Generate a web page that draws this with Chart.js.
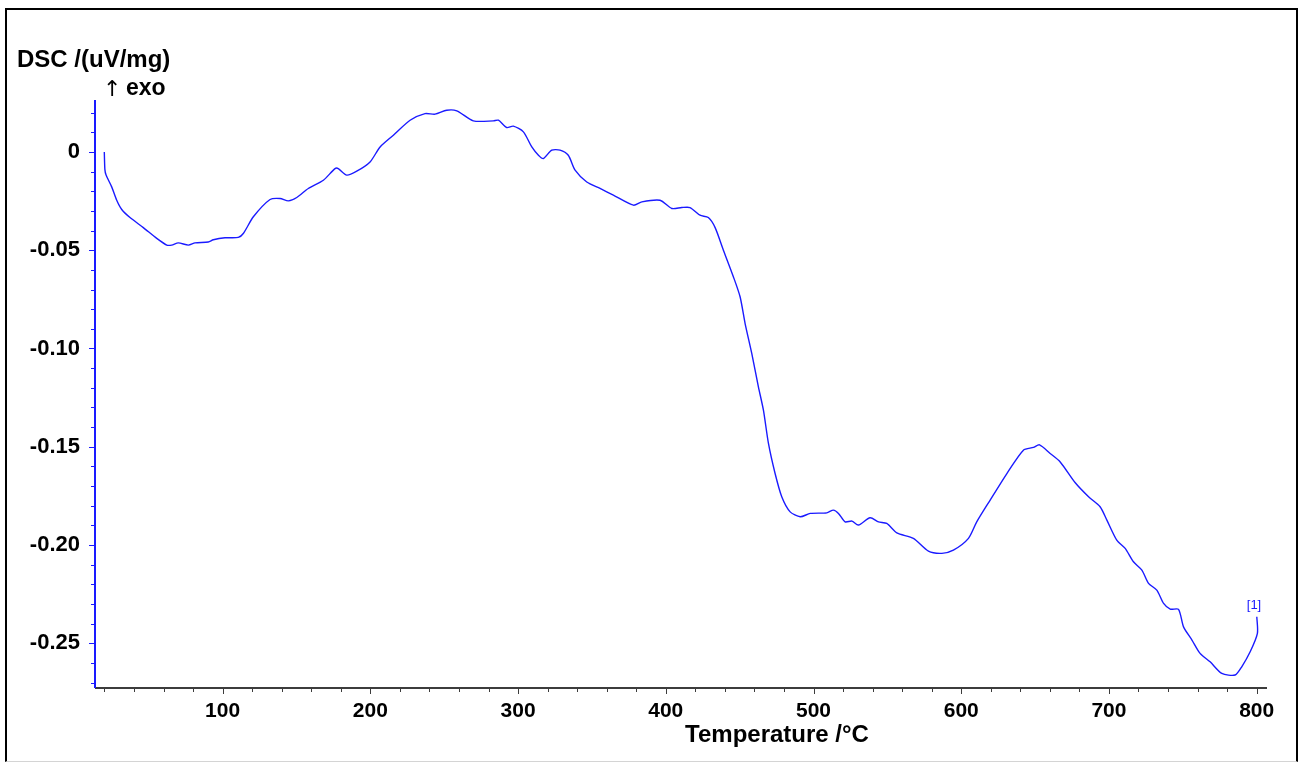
<!DOCTYPE html>
<html>
<head>
<meta charset="utf-8">
<script src="https://cdn.jsdelivr.net/npm/chart.js@4.4.1/dist/chart.umd.min.js"></script>
<style>
  html, body { margin: 0; padding: 0; background: #fff; }
  #frame {
    position: absolute; left: 5px; top: 8px; width: 1293px; height: 754px;
    box-sizing: border-box; border: 2px solid #000; border-bottom: 1px solid #d4d4d4;
  }
  #wrap { position: absolute; left: 0; top: 0; width: 1302px; height: 763px; }
</style>
</head>
<body>
<div id="frame"></div>
<div id="wrap"><canvas id="dscChart" width="1302" height="763"></canvas></div>
<script>
// temperature (°C) and DSC signal (uV/mg)
const temps = [19.9, 20.3, 21.1, 24.9, 28.3, 31.7, 37.3, 46.3, 55.4, 62.2, 65.5, 70.0, 76.8, 81.3, 90.3, 93.7,
  101.6, 110.6, 114.0, 120.8, 132.1, 138.9, 144.5, 150.2, 158.0, 168.2, 176.1, 178.3, 184.0, 190.8, 199.8,
  206.6, 215.6, 226.9, 237.0, 243.8, 251.7, 258.5, 269.7, 283.3, 286.7, 292.3, 296.8, 303.6, 309.3, 313.8,
  317.1, 322.8, 328.4, 334.0, 338.6, 346.5, 355.5, 364.5, 378.1, 383.8, 396.1, 404.1, 410.8, 416.4, 423.2,
  428.8, 433.4, 439.0, 445.8, 450.3, 453.7, 458.2, 462.7, 466.1, 469.5, 474.0, 478.5, 484.2, 491.0, 497.8,
  509.0, 513.5, 516.9, 521.4, 526.0, 530.4, 538.3, 544.0, 549.6, 556.4, 567.6, 577.8, 586.9, 594.7, 604.9,
  610.5, 619.6, 630.9, 642.1, 648.9, 653.0, 660.2, 667.0, 677.2, 686.2, 694.0, 698.6, 705.3, 711.0, 716.6,
  722.3, 726.8, 732.4, 737.0, 741.5, 747.1, 750.5, 756.2, 761.7, 768.5, 776.4, 785.4, 789.9, 795.6, 800.5, 800.1];
const dsc = [0.000, -0.0090, -0.0118, -0.0178, -0.0246, -0.0293, -0.0334, -0.0385, -0.0440, -0.0474, -0.0474,
  -0.0463, -0.0474, -0.0463, -0.0458, -0.0447, -0.0437, -0.0435, -0.0415, -0.0330, -0.0242, -0.0237, -0.0249,
  -0.0232, -0.0186, -0.0144, -0.0085, -0.0085, -0.0118, -0.0098, -0.0051, 0.0025, 0.0085, 0.0161, 0.0195,
  0.0192, 0.0212, 0.0209, 0.0158, 0.0158, 0.0161, 0.0124, 0.0131, 0.0102, 0.0025, -0.0017, -0.0034, 0.0009,
  0.0009, -0.0017, -0.0093, -0.0153, -0.0186, -0.0220, -0.0271, -0.0254, -0.0246, -0.0288, -0.0283, -0.0283,
  -0.0322, -0.0334, -0.0385, -0.0500, -0.0636, -0.0737, -0.0873, -0.1025, -0.1195, -0.1314, -0.1483, -0.1636,
  -0.1754, -0.1831, -0.1856, -0.1839, -0.1836, -0.1822, -0.1839, -0.1882, -0.1878, -0.1898, -0.1861, -0.1882,
  -0.1890, -0.1938, -0.1966, -0.2031, -0.2042, -0.2026, -0.1966, -0.1882, -0.1771, -0.1636, -0.1517, -0.1503,
  -0.1490, -0.1534, -0.1577, -0.1683, -0.1754, -0.1805, -0.1873, -0.1975, -0.2017, -0.2085, -0.2127, -0.2195,
  -0.2229, -0.2297, -0.2326, -0.2327, -0.2416, -0.2483, -0.2551, -0.2594, -0.2653, -0.2661, -0.2619, -0.2543,
  -0.2449, -0.2365];

const xMajor = [100, 200, 300, 400, 500, 600, 700, 800];
const yMajor = [0, -0.05, -0.10, -0.15, -0.20, -0.25];

const FONT = "'Liberation Sans', Arial, sans-serif";
const BLUE = "#1a1aff";

const axesPlugin = {
    id: "dscAxes",
    afterDraw(chart) {
        const ctx = chart.ctx;
        const xs = chart.scales.x, ys = chart.scales.y;
        const isMajor = (v, list) => list.some(m => Math.abs(m - v) < 1e-6);
        ctx.save();

        // x axis line + ticks
        ctx.strokeStyle = "#3c3c3c";
        ctx.lineWidth = 2;
        ctx.beginPath();
        ctx.moveTo(xs.left, xs.top);
        ctx.lineTo(xs.right, xs.top);
        ctx.stroke();
        ctx.lineWidth = 1;
        ctx.beginPath();
        xs.ticks.forEach(t => {
            const px = Math.round(xs.getPixelForValue(t.value)) + 0.5;
            const len = isMajor(t.value, xMajor) ? 6 : 4;
            ctx.moveTo(px, xs.top);
            ctx.lineTo(px, xs.top + len);
        });
        ctx.stroke();

        // y axis line + ticks
        ctx.strokeStyle = BLUE;
        ctx.lineWidth = 2;
        ctx.beginPath();
        ctx.moveTo(ys.right, ys.top);
        ctx.lineTo(ys.right, ys.bottom);
        ctx.stroke();
        ctx.lineWidth = 1;
        ctx.beginPath();
        ys.ticks.forEach(t => {
            const py = Math.round(ys.getPixelForValue(t.value)) + 0.5;
            const len = isMajor(t.value, yMajor) ? 6 : 4;
            ctx.moveTo(ys.right, py);
            ctx.lineTo(ys.right - len, py);
        });
        ctx.stroke();

        // titles
        ctx.fillStyle = "#000";
        ctx.textBaseline = "alphabetic";
        ctx.textAlign = "left";
        ctx.font = "bold 24px " + FONT;
        ctx.fillText("DSC /(uV/mg)", 17, 67);
        ctx.font = "22px 'DejaVu Sans', sans-serif";
        ctx.fillText("\u2191", 103, 96);
        ctx.font = "bold 23px " + FONT;
        ctx.fillText("exo", 126, 95);
        ctx.font = "bold 24px " + FONT;
        ctx.textAlign = "center";
        ctx.fillText("Temperature /\u00b0C", 777, 742);

        // curve label
        ctx.fillStyle = BLUE;
        ctx.font = "13px " + FONT;
        ctx.fillText("[1]", 1254, 609);
        ctx.restore();
    }
};

const points = temps.map((t, i) => ({ x: t, y: dsc[i] }));

new Chart(document.getElementById("dscChart"), {
    type: "line",
    data: {
        datasets: [{
            data: points,
            borderColor: BLUE,
            borderWidth: 1.4,
            pointRadius: 0,
            tension: 0.25,
            fill: false
        }]
    },
    options: {
        responsive: false,
        animation: false,
        layout: { padding: { left: 0, top: 100, right: 35, bottom: 0 } },
        plugins: { legend: { display: false }, tooltip: { enabled: false } },
        scales: {
            x: {
                type: "linear",
                min: 13.6,
                max: 807,
                grid: { display: false, drawTicks: false },
                border: { display: false },
                afterFit: s => { s.height = 75; },
                ticks: {
                    stepSize: 20,
                    includeBounds: false,
                    autoSkip: false,
                    maxRotation: 0,
                    padding: 11,
                    color: "#000",
                    font: { family: FONT, size: 21, weight: "bold" },
                    callback: v => xMajor.includes(Math.round(v)) && Math.abs(v - Math.round(v)) < 1e-6 ? String(Math.round(v)) : ""
                }
            },
            y: {
                min: -0.2727,
                max: 0.0264,
                grid: { display: false, drawTicks: false },
                border: { display: false },
                afterFit: s => { s.width = 95; },
                ticks: {
                    stepSize: 0.01,
                    includeBounds: false,
                    autoSkip: false,
                    padding: 15,
                    color: "#000",
                    font: { family: FONT, size: 22, weight: "bold" },
                    callback: v => {
                        const m = yMajor.find(k => Math.abs(k - v) < 1e-6);
                        if (m === undefined) return "";
                        return m === 0 ? "0" : m.toFixed(2);
                    }
                }
            }
        }
    },
    plugins: [axesPlugin]
});
</script>
</body>
</html>
